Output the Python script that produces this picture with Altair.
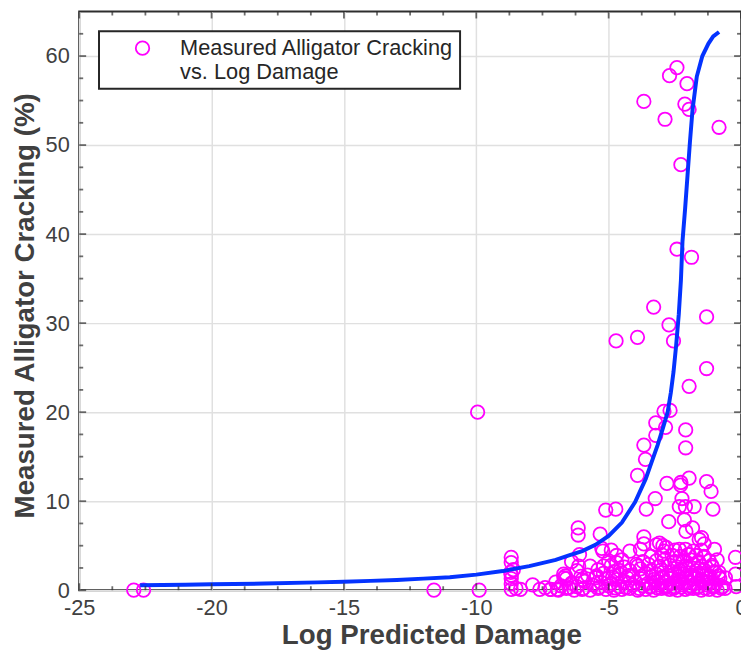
import altair as alt
import pandas as pd

# ---------------- axis ticks ----------------
x_major = [-25, -20, -15, -10, -5, 0]
x_minor = [-23.75, -22.5, -21.25, -18.75, -17.5, -16.25, -13.75, -12.5, -11.25,
           -8.75, -7.5, -6.25, -3.75, -2.5, -1.25]
y_major = [0, 10, 20, 30, 40, 50, 60]
y_minor = [2.5, 5, 7.5, 12.5, 15, 17.5, 22.5, 25, 27.5, 32.5, 35, 37.5,
           42.5, 45, 47.5, 52.5, 55, 57.5, 62.5]

# ---------------- measured points ----------------
iso_x = [-22.94, -22.57, -11.6, -9.89, -9.95]
iso_y = [0.0, 0.0, 0.0, 0.0, 20.0]

high_x = [-2.42, -2.70, -2.04, -3.67, -2.12, -1.96, -2.87, -0.83, -2.27, -2.42, -1.87,
          -3.30, -1.30, -2.72, -4.72, -3.91, -2.55, -1.30, -1.96, -2.91, -2.68, -3.22,
          -2.85, -2.09, -3.22, -3.67, -2.09, -3.61, -3.91, -2.80, -1.96, -1.30, -2.27]
high_y = [58.7, 57.8, 56.9, 54.9, 54.6, 54.0, 52.9, 52.0, 47.8, 38.3, 37.4,
          31.8, 30.7, 29.8, 28.0, 28.4, 28.0, 24.9, 22.9, 20.1, 20.2, 18.8,
          18.3, 18.0, 17.4, 16.3, 16.0, 14.7, 12.9, 12.0, 12.6, 12.2, 12.1]

mid_x = [-2.28, -1.13, -5.11, -4.73, -3.58, -3.24, -2.23, -2.33, -2.10, -1.77, -1.06,
         -6.15, -6.15, -5.32, -2.73, -2.14, -2.08, -1.83, -1.49, -1.39, -3.67, -3.67,
         -3.20, -2.95, -5.26, -5.22, -6.10, -4.20, -0.21, -0.21, -1.58, -3.08, -2.83,
         -2.33, -1.96, -1.40, -1.08, -0.83, -0.59, -6.13, -5.19, -4.70, -3.95, -4.57,
         -0.18]
mid_y = [11.8, 11.1, 9.0, 9.1, 9.1, 10.3, 10.3, 9.4, 9.4, 9.4, 9.1,
         7.0, 6.2, 6.3, 7.7, 7.9, 6.6, 7.0, 5.9, 5.2, 6.0, 5.2,
         5.1, 5.0, 4.7, 4.4, 4.0, 4.4, 3.7, 1.8, 5.7, 5.3, 4.8,
         4.6, 4.0, 3.7, 2.6, 2.0, 1.4, 2.7, 2.7, 3.1, 2.9, 2.2,
         0.4]

low_x = [-8.68, -8.68, -8.68, -8.68, -8.68, -8.68, -8.50, -8.33, -7.87, -7.19, -6.94,
         -6.69, -6.63, -7.60, -7.40, -8.60, -8.70]
low_y = [3.7, 3.1, 1.7, 1.3, 0.7, 0.1, 0.2, 0.1, 0.6, 0.1, 0.1,
         1.4, 1.6, 0.1, 0.3, 2.3, 2.0]

cluster_x = [
    -7.2, -6.9, -6.6, -6.3, -6.0, -5.7, -5.4, -5.1, -4.8, -4.5, -4.2, -3.9, -3.6, -3.3,
    -3.0, -2.7, -2.4, -2.1, -1.8, -1.5, -1.2, -0.9, -0.6,
    -6.8, -6.2, -5.6, -5.0, -4.6, -4.1, -3.7, -3.4, -3.1, -2.8, -2.5, -2.2, -1.9, -1.6,
    -1.3, -1.0, -0.7,
    -7.0, -6.4, -5.9, -5.3, -4.9, -4.4, -4.0, -3.5, -3.2, -2.9, -2.6, -2.3, -2.0, -1.7,
    -1.4, -1.1,
    -6.6, -6.0, -5.5, -5.1, -4.7, -4.3, -3.8, -3.3, -3.0, -2.7, -2.4, -2.1, -1.8, -1.5,
    -1.2, -0.8,
    -6.7, -5.8, -5.2, -4.6, -4.1, -3.6, -3.2, -2.8, -2.5, -2.2, -1.9, -1.6, -1.3,
    -6.2, -5.4, -4.8, -4.2, -3.8, -3.4, -3.0, -2.6, -2.3, -2.0, -1.7, -1.4, -1.0,
    -5.7, -4.9, -4.4, -3.9, -3.5, -3.1, -2.7, -2.4, -2.1, -1.8, -1.5, -1.1,
    -6.4, -5.0, -4.5, -3.7, -3.2, -2.9, -2.5, -2.2, -1.9, -1.6, -1.2, -0.9,
    -4.7, -3.4, -3.0, -2.6, -2.3, -2.0, -1.7, -1.4,
    -4.9, -3.8, -2.9, -2.5, -2.1, -1.8, -1.5, -1.0,
    -6.5, -5.95, -5.35, -4.75, -4.35, -3.85, -3.45, -3.15, -2.85, -2.55, -2.25, -1.95,
    -1.65, -1.35, -1.05, -0.75,
    -6.05, -5.45, -4.85, -4.25, -3.75, -3.35, -2.95, -2.65, -2.35, -2.05, -1.75, -1.45,
    -1.15, -0.85,
]
cluster_y = [
    0.1, 0.0, 0.2, 0.0, 0.1, 0.0, 0.2, 0.1, 0.0, 0.1, 0.2, 0.0, 0.1, 0.0,
    0.2, 0.1, 0.0, 0.1, 0.2, 0.0, 0.1, 0.0, 0.2,
    0.5, 0.4, 0.6, 0.5, 0.4, 0.6, 0.5, 0.4, 0.6, 0.5, 0.4, 0.6, 0.5, 0.4,
    0.6, 0.5, 0.4,
    0.9, 0.8, 1.0, 0.9, 0.8, 1.0, 0.9, 0.8, 1.0, 0.9, 0.8, 1.0, 0.9, 0.8,
    1.0, 0.9,
    1.3, 1.2, 1.4, 1.3, 1.2, 1.4, 1.3, 1.2, 1.4, 1.3, 1.2, 1.4, 1.3, 1.2,
    1.4, 1.3,
    1.8, 1.7, 1.9, 1.8, 1.7, 1.9, 1.8, 1.7, 1.9, 1.8, 1.7, 1.9, 1.8,
    2.2, 2.3, 2.1, 2.2, 2.4, 2.2, 2.3, 2.1, 2.2, 2.4, 2.2, 2.3, 2.1,
    2.7, 2.8, 2.6, 2.7, 2.9, 2.7, 2.8, 2.6, 2.7, 2.9, 2.7, 2.8,
    3.2, 3.3, 3.4, 3.2, 3.3, 3.4, 3.2, 3.3, 3.4, 3.2, 3.3, 3.4,
    3.9, 3.8, 4.0, 3.9, 3.8, 4.0, 3.9, 3.8,
    4.5, 4.6, 4.4, 4.5, 4.6, 4.4, 4.5, 4.6,
    0.3, 0.2, 0.35, 0.25, 0.3, 0.2, 0.35, 0.25, 0.3, 0.2, 0.35, 0.25,
    0.3, 0.2, 0.35, 0.25,
    1.55, 1.6, 1.5, 1.65, 1.55, 1.6, 1.5, 1.65, 1.55, 1.6, 1.5, 1.65,
    1.55, 1.6,
]

# ---------------- fitted curve ----------------
curve_x = [-22.7, -21, -20, -18, -16, -15, -14, -13, -12, -11, -10, -9, -8, -7, -6.5,
           -6, -5.5, -5, -4.5, -4, -3.6, -3.4, -3.15, -2.95, -2.77, -2.65, -2.55,
           -2.45, -2.35, -2.27, -2.21, -2.11, -2.02, -1.93, -1.83, -1.67, -1.46,
           -1.23, -1.05, -0.83]
curve_y = [0.55, 0.62, 0.66, 0.75, 0.88, 0.95, 1.05, 1.15, 1.3, 1.45, 1.75, 2.15, 2.7,
           3.4, 3.9, 4.4, 5.1, 6.1, 7.6, 9.9, 12.5, 14.2, 16.3, 18.2, 20.0, 22.2,
           24.5, 27.5, 31.0, 34.8, 39.2, 42.9, 46.6, 50.3, 54.0, 57.7, 60.0, 61.4,
           62.2, 62.7]

series_name = "Measured Alligator Cracking vs. Log Damage"

all_x = iso_x + high_x + mid_x + low_x + cluster_x
all_y = iso_y + high_y + mid_y + low_y + cluster_y
pts = pd.DataFrame({"x": all_x, "y": all_y, "series": [series_name] * len(all_x)})
curve = pd.DataFrame({"x": curve_x, "y": curve_y})

W, H = 669, 585
FONT = "Liberation Sans"
TXT = "#404040"
AX = "#2e2e2e"
PT_SIZE = 185

xscale = alt.Scale(domain=[-25, 0], nice=False, zero=False)
yscale = alt.Scale(domain=[0, 65], nice=False, zero=False)

xaxis = alt.Axis(values=x_major, title="Log Predicted Damage", grid=True, ticks=False,
                 domain=False, labelFontSize=22, labelPadding=8, titleFontSize=28,
                 titleFontWeight="bold", titleX=356, titleY=54,
                 titleBaseline="alphabetic", labelFlush=False, labelOverlap=False,
                 labelExpr="'' + datum.value")
yaxis = alt.Axis(values=y_major, title="Measured Alligator Cracking (%)", grid=True,
                 ticks=False, domain=False, labelFontSize=22, labelPadding=10,
                 titleFontSize=28, titleFontWeight="bold", titleX=-46, titleY=297,
                 titleBaseline="alphabetic", titleAngle=270, labelFlush=False,
                 labelOverlap=False, labelExpr="'' + datum.value")

scatter = alt.Chart(pts).mark_point(shape="circle", filled=False, size=PT_SIZE,
                                    strokeWidth=1.8, opacity=1).encode(
    x=alt.X("x:Q", scale=xscale, axis=xaxis),
    y=alt.Y("y:Q", scale=yscale, axis=yaxis),
    color=alt.Color("series:N", scale=alt.Scale(range=["#ff00ff"]),
                    legend=alt.Legend(
                        orient="none", legendX=20, legendY=20, title=None,
                        labelExpr="['Measured Alligator Cracking', 'vs. Log Damage']",
                        labelFont=FONT, labelFontSize=22, labelColor="#262626",
                        labelLimit=600, labelOffset=27, symbolOffset=27,
                        padding=6, strokeColor="#262626", fillColor="white",
                        symbolType="circle", symbolSize=PT_SIZE, symbolStrokeWidth=1.8,
                        symbolStrokeColor="#ff00ff", symbolFillColor="transparent")),
)

line = alt.Chart(curve).mark_line(color="#0433ff", strokeWidth=4).encode(
    x=alt.X("x:Q", scale=xscale, axis=xaxis),
    y=alt.Y("y:Q", scale=yscale, axis=yaxis),
)

xmaj = pd.DataFrame({"x": x_major})
xmin = pd.DataFrame({"x": x_minor})
ymaj = pd.DataFrame({"y": y_major})
ymin = pd.DataFrame({"y": y_minor})


def xticks(df, length, at_bottom):
    pos = H - length / 2 if at_bottom else length / 2
    return alt.Chart(df).mark_tick(orient="vertical", size=length, thickness=1.8,
                                   color=AX).encode(
        x=alt.X("x:Q", scale=xscale, axis=xaxis), y=alt.value(pos))


def yticks(df, length, at_left):
    pos = length / 2 if at_left else W - length / 2
    return alt.Chart(df).mark_tick(orient="horizontal", size=length, thickness=1.8,
                                   color=AX).encode(
        y=alt.Y("y:Q", scale=yscale, axis=yaxis), x=alt.value(pos))


chart = alt.layer(
    scatter, line,
    xticks(xmaj, 7, True), xticks(xmaj, 7, False),
    xticks(xmin, 4, True), xticks(xmin, 4, False),
    yticks(ymaj, 7, True), yticks(ymaj, 7, False),
    yticks(ymin, 4, True), yticks(ymin, 4, False),
).properties(
    width=W, height=H,
    padding={"left": 72, "top": 0, "right": 0, "bottom": 69},
    autosize=alt.AutoSizeParams(type="none"),
).configure_view(
    stroke=AX, strokeWidth=2
).configure_axis(
    labelFont=FONT, titleFont=FONT, labelColor=TXT, titleColor=TXT,
    gridColor="#e0e0e0", gridWidth=1.5, gridOpacity=1
).configure_legend(
    strokeWidth=2
)

chart.save("out.html", embed_options={"renderer": "svg", "actions": False})
